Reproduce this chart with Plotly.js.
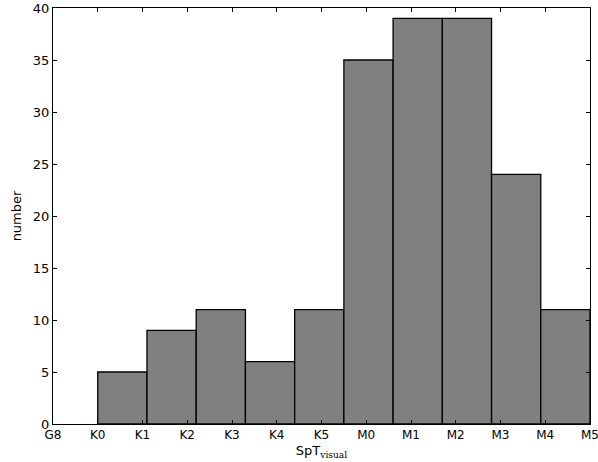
<!DOCTYPE html>
<html>
<head>
<meta charset="utf-8">
<script src="https://cdn.plot.ly/plotly-3.0.1.min.js"></script>
<style>
  html, body { margin: 0; padding: 0; background: #fff; }
  #plotArea { width: 598px; height: 462px; }
</style>
</head>
<body>
<div id="plotArea"></div>
<script>
// spectral type tick labels, one per unit on the x axis
var typeLabels = ["G8", "K0", "K1", "K2", "K3", "K4", "K5", "M0", "M1", "M2", "M3", "M4", "M5"];
var typePositions = typeLabels.map(function (lab, i) {
  return i;
});

// histogram bins: 10 bins from K0 (1) to M5 (12)
var binStart = 1;
var binWidth = 1.1;
var counts = [5, 9, 11, 6, 11, 35, 39, 39, 24, 11];

var centers = counts.map(function (c, i) {
  return binStart + binWidth * (i + 0.5);
});

var trace = {
  x: centers,
  y: counts,
  type: "bar",
  width: binWidth,
  marker: {
    color: "#808080",
    line: { color: "#000000", width: 1.3 }
  },
  hoverinfo: "x+y"
};

var axisStyle = {
  showline: true,
  linecolor: "#000000",
  linewidth: 1,
  mirror: "ticks",
  ticks: "inside",
  ticklen: 4,
  tickcolor: "#000000",
  tickwidth: 1,
  showgrid: false,
  zeroline: false,
  ticklabeloverflow: "allow"
};

var layout = {
  width: 598,
  height: 462,
  margin: { l: 53, r: 8, t: 8, b: 38 },
  paper_bgcolor: "#ffffff",
  plot_bgcolor: "#ffffff",
  font: { family: "DejaVu Sans", size: 13, color: "#000000" },
  showlegend: false,
  bargap: 0,
  xaxis: Object.assign({}, axisStyle, {
    range: [0, 12],
    tickmode: "array",
    tickvals: typePositions,
    ticktext: typeLabels,
    tickfont: { size: 12 },
    title: {
      text: "SpT<sub><span style='font-family:DejaVu Serif'>visual</span></sub>",
      font: { size: 13 },
      standoff: 4
    }
  }),
  yaxis: Object.assign({}, axisStyle, {
    range: [0, 40],
    tickmode: "linear",
    tick0: 0,
    dtick: 5,
    tickfont: { size: 13 },
    title: { text: "number", font: { size: 13 }, standoff: 8 }
  })
};

Plotly.newPlot("plotArea", [trace], layout, { displayModeBar: false, staticPlot: true });
</script>
</body>
</html>
